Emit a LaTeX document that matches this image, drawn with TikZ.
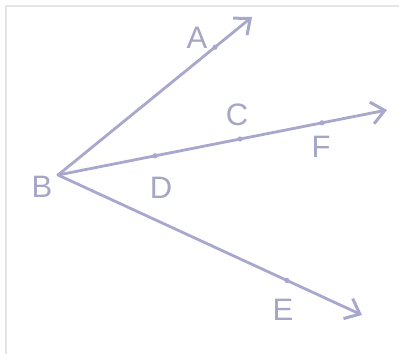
\documentclass[tikz,border=0pt]{standalone}
\usepackage{fontspec}
\setmainfont{Liberation Sans}
\usetikzlibrary{arrows.meta}
\definecolor{ray}{RGB}{168,168,206}
\definecolor{lbl}{RGB}{165,165,198}
\definecolor{frame}{RGB}{228,228,232}
\begin{document}
\begin{tikzpicture}[x=1pt,y=-1pt,
  raystyle/.style={draw=ray,line width=2.8pt,line cap=round,
    -{Straight Barb[length=13pt,width=22pt,line width=3pt]}},
  ptlabel/.style={text=lbl,font=\fontsize{31}{31}\selectfont,inner sep=0pt},
  ptdot/.style={fill=ray}]
\useasboundingbox (0,0) rectangle (399,354);
\fill[white] (0,0) rectangle (399,354);
\draw[frame,line width=1.2pt] (6,354) -- (6,6) -- (399,6);
% vertex and ray ends
\coordinate (B) at (58,175);
\coordinate (Atip) at (252,17);
\coordinate (Ftip) at (387,110);
\coordinate (Etip) at (362,315);
% points on rays
\coordinate (Ap) at (215,47.2);
\coordinate (Dp) at (155,155.8);
\coordinate (Cp) at (240,139.0);
\coordinate (Fp) at (322,122.8);
\coordinate (Ep) at (287,280.5);
\draw[raystyle] (B) -- (Atip);
\draw[raystyle] (B) -- (Ftip);
\draw[raystyle] (B) -- (Etip);
\foreach \p in {Ap,Dp,Cp,Fp,Ep}{\fill[ptdot] (\p) circle (2.6);}
% labels
\node[ptlabel] (lA) at (197,38) {A};
\node[ptlabel] (lB) at (42,187) {B};
\node[ptlabel] (lC) at (237,115) {C};
\node[ptlabel] (lD) at (161,188) {D};
\node[ptlabel] (lE) at (283,310) {E};
\node[ptlabel] (lF) at (321,147) {F};
\end{tikzpicture}
\end{document}
